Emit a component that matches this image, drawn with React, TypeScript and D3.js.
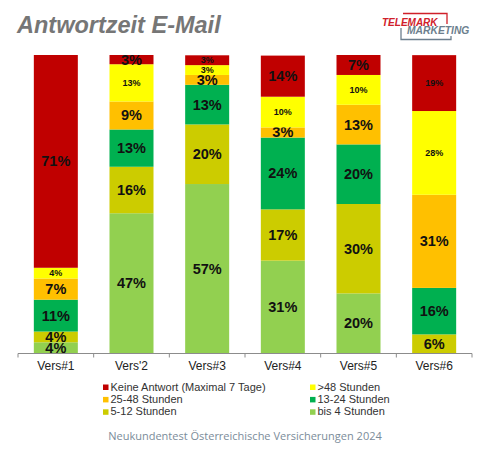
import React from "react";
import * as d3 from "d3";

const categories = ["Vers#1", "Vers'2", "Vers#3", "Vers#4", "Vers#5", "Vers#6"];
const seriesNames = [
  "bis 4 Stunden",
  "5-12 Stunden",
  "13-24 Stunden",
  "25-48 Stunden",
  ">48 Stunden",
  "Keine Antwort (Maximal 7 Tage)",
];
// percent values per series (bottom to top), one entry per category
const bis4 = [3.6, 46.9, 56.7, 31.0, 20.0, 0];
const h5to12 = [3.6, 15.6, 20.0, 17.2, 30.0, 6.25];
const h13to24 = [10.7, 12.5, 13.3, 24.1, 20.0, 15.6];
const h25to48 = [7.1, 9.4, 3.3, 3.4, 13.3, 31.25];
const over48 = [3.6, 12.5, 3.3, 10.3, 10.0, 28.1];
const keine = [71.4, 3.1, 3.3, 13.8, 6.7, 18.75];
const seriesValues = [bis4, h5to12, h13to24, h25to48, over48, keine];
const colors = ["#92D050", "#CCCC00", "#00B050", "#FFC000", "#FFFF00", "#C00000"];
// legend order (two columns, row by row)
const legendOrder = [5, 4, 3, 2, 1, 0];
const smallLabels = new Set(["4-0", "4-1", "4-2", "4-3", "4-4", "4-5", "5-2", "5-5"]);
const yTicks = [0, 100];

const W = 491;
const H = 456;
const FONT = "'Liberation Sans', Arial, sans-serif";

export default function App() {
  const x = d3
    .scaleBand<string>()
    .domain(categories)
    .range([18, 472])
    .paddingInner(0.4185)
    .paddingOuter(0.4185 / 2);
  const y = d3.scaleLinear().domain([yTicks[0], yTicks[1]]).range([353, 55]);

  const table = categories.map((c, i) => {
    const row: any = { cat: c };
    seriesNames.forEach((s, k) => (row[s] = seriesValues[k][i]));
    return row;
  });
  const stacked = d3.stack<any>().keys(seriesNames)(table);

  const step = x.step();
  const boundaries = d3.range(categories.length + 1).map((i) => 18 + i * step);

  return (
    <svg width={W} height={H} style={{ display: "block", position: "absolute", left: 0, top: 0 }}>
      <rect x={0} y={0} width={W} height={H} fill="#ffffff" />
      <text x={17} y={33} fontFamily={FONT} fontWeight="bold" fontStyle="italic" fontSize={23.5} fill="#767676">
        Antwortzeit E-Mail
      </text>
      {/* logo */}
      <g>
        <path d="M403,13.5 H447 V24" fill="none" stroke="#d0202a" strokeWidth={1.3} />
        <path d="M401,28 V39.5 H451 V36" fill="none" stroke="#6d7f8e" strokeWidth={1.3} />
        <text x={382} y={26} fontFamily={FONT} fontWeight="bold" fontStyle="italic" fontSize={10} fill="#d0202a">
          TELEMARK
        </text>
        <text x={407} y={34} fontFamily={FONT} fontWeight="bold" fontStyle="italic" fontSize={10.3} fill="#6d7f8e">
          MARKETING
        </text>
      </g>
      {stacked.map((layer, k) => (
        <g key={k}>
          {layer.map((d, i) => {
            const v = seriesValues[k][i];
            if (v <= 0) return null;
            const x0 = x(categories[i])!;
            const y0 = y(d[1]);
            const y1 = y(d[0]);
            const small = smallLabels.has(`${k}-${i}`);
            return (
              <g key={i}>
                <rect x={x0} y={y0} width={x.bandwidth()} height={y1 - y0} fill={colors[k]} />
                <text
                  x={x0 + x.bandwidth() / 2}
                  y={(y0 + y1) / 2}
                  textAnchor="middle"
                  dominantBaseline="central"
                  fontFamily={FONT}
                  fontWeight="bold"
                  fontSize={small ? 9 : 14.5}
                  fill="#111"
                >
                  {Math.round(v)}%
                </text>
              </g>
            );
          })}
        </g>
      ))}
      {/* axis */}
      <line x1={18} x2={472} y1={353.5} y2={353.5} stroke="#8c8c8c" strokeWidth={1} />
      {boundaries.map((bx, i) => (
        <line key={i} x1={bx} x2={bx} y1={353.5} y2={357.5} stroke="#8c8c8c" strokeWidth={1} />
      ))}
      {categories.map((c) => (
        <text
          key={c}
          x={x(c)! + x.bandwidth() / 2}
          y={370}
          textAnchor="middle"
          fontFamily={FONT}
          fontSize={12}
          fill="#222"
        >
          {c}
        </text>
      ))}
      {/* legend */}
      {legendOrder.map((k, idx) => {
        const col = idx % 2;
        const row = Math.floor(idx / 2);
        const lx = col === 0 ? 103 : 310;
        const ly = 390.5 + row * 12.4;
        return (
          <g key={k}>
            <rect x={lx} y={ly - 6} width={5.5} height={5.5} fill={colors[k]} />
            <text x={lx + 7.5} y={ly} fontFamily={FONT} fontSize={11} fill="#333">
              {seriesNames[k]}
            </text>
          </g>
        );
      })}
      <text
        x={245}
        y={440}
        textAnchor="middle"
        fontFamily="'Open Sans', 'DejaVu Sans', sans-serif"
        fontSize={11}
        fill="#7b8c9a"
      >
        Neukundentest Österreichische Versicherungen 2024
      </text>
    </svg>
  );
}
